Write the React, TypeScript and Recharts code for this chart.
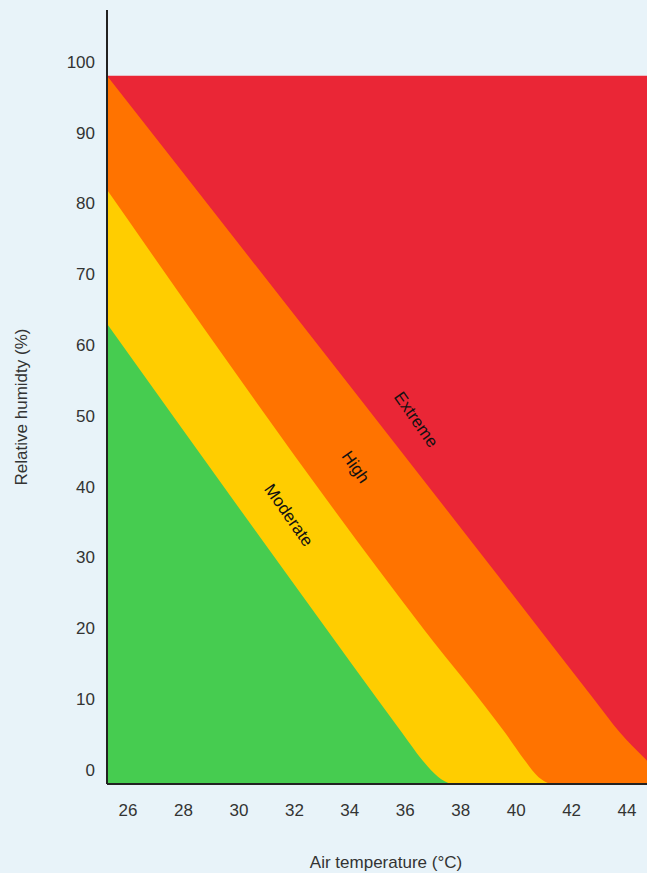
import React from "react";
import { ComposedChart, Area, XAxis, YAxis, ReferenceDot } from "recharts";

document.body.style.margin = "0";
document.body.style.background = "#e8f3f9";

// Axis ticks and domains
const temperatureTicks = [26, 28, 30, 32, 34, 36, 38, 40, 42, 44];
const humidityTicks = [0, 10, 20, 30, 40, 50, 60, 70, 80, 90, 100];
const temperatureDomain = [25.24, 44.72];
const humidityDomain = [-2, 107.3];

// Extreme band (top edge)
const extremeTemps = [25.24, 44.72];
const extremeHumidity = [98, 98];

// High / Extreme boundary
const highTemps = [25.24, 38.89, 42.82, 43.76, 44.59, 44.72];
const highHumidity = [98, 29.7, 9.9, 5.2, 1.8, 1.3];

// Moderate / High boundary
const moderateTemps = [25.24, 36.68, 39.61, 40.3, 40.8, 41.23];
const moderateHumidity = [81.9, 19.8, 5.2, 1.4, -1.0, -2.0];

// Low / Moderate boundary
const lowTemps = [25.24, 32.21, 35.89, 36.61, 37.19, 37.62];
const lowHumidity = [63.0, 25.0, 5.2, 1.4, -1.0, -2.0];

const bandLabels = [
  { name: "Moderate", t: 31.81, h: 36.0 },
  { name: "High", t: 34.22, h: 42.8 },
  { name: "Extreme", t: 36.4, h: 49.5 },
];

const zip = (t: number[], h: number[]) => t.map((x, i) => ({ t: x, h: h[i] }));

const extremeData = zip(extremeTemps, extremeHumidity);
const highData = zip(highTemps, highHumidity);
const moderateData = zip(moderateTemps, moderateHumidity);
const lowData = zip(lowTemps, lowHumidity);

const FONT = "'Liberation Sans', Arial, sans-serif";
const tickStyle = { fill: "#333", fontSize: 17, fontFamily: FONT };

const bands = [
  { key: "extreme", data: extremeData, fill: "#ea2636", type: "linear" },
  { key: "high", data: highData, fill: "#ff7300", type: "monotone" },
  { key: "moderate", data: moderateData, fill: "#ffcd00", type: "monotone" },
  { key: "low", data: lowData, fill: "#46cc50", type: "monotone" },
];

export default function App() {
  return (
    <ComposedChart
      width={647}
      height={873}
      margin={{ top: 10, right: 0, bottom: 0, left: 0 }}
    >
      <XAxis
        dataKey="t"
        type="number"
        domain={temperatureDomain}
        ticks={temperatureTicks}
        allowDataOverflow
        tickLine={false}
        tickSize={0}
        tickMargin={20}
        height={89}
        axisLine={{ stroke: "#222", strokeWidth: 2 }}
        tick={tickStyle}
        label={{
          value: "Air temperature (°C)",
          position: "insideBottom",
          offset: 5,
          dx: 9,
          fill: "#333",
          fontSize: 17,
          fontFamily: FONT,
        }}
      />
      <YAxis
        dataKey="h"
        type="number"
        domain={humidityDomain}
        ticks={humidityTicks}
        allowDataOverflow
        tickLine={false}
        tickSize={0}
        tickMargin={12}
        width={107}
        axisLine={{ stroke: "#222", strokeWidth: 2 }}
        tick={tickStyle}
        label={{
          value: "Relative humidty (%)",
          angle: -90,
          position: "center",
          dx: -33,
          dy: 10,
          fill: "#333",
          fontSize: 17,
          fontFamily: FONT,
        }}
      />
      {bands.map((b) => (
        <Area
          key={b.key}
          data={b.data}
          dataKey="h"
          type={b.type as any}
          baseValue="dataMin"
          stroke="none"
          fill={b.fill}
          fillOpacity={1}
          dot={false}
          activeDot={false}
          isAnimationActive={false}
        />
      ))}
      {bandLabels.map((b) => (
        <ReferenceDot
          key={b.name}
          x={b.t}
          y={b.h}
          r={0}
          fill="none"
          stroke="none"
          label={{
            value: b.name,
            angle: 55,
            position: "center",
            fill: "#111",
            fontSize: 17,
            fontFamily: FONT,
          }}
        />
      ))}
    </ComposedChart>
  );
}
